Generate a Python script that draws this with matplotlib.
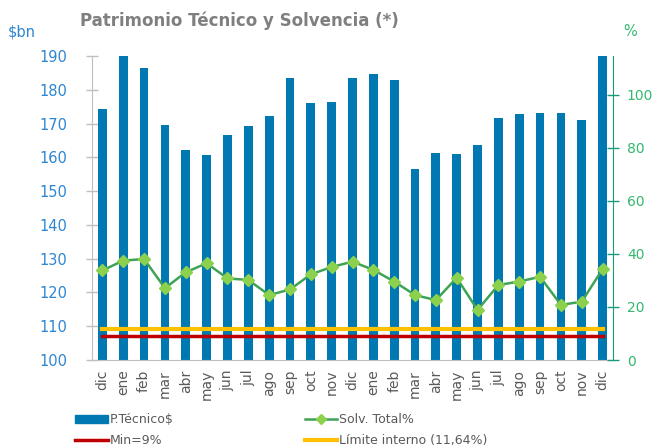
import matplotlib
matplotlib.use("Agg")
import matplotlib.pyplot as plt
import numpy as np
from matplotlib.lines import Line2D
from matplotlib.patches import Patch

months = ["dic", "ene", "feb", "mar", "abr", "may", "jun", "jul", "ago", "sep", "oct", "nov",
          "dic", "ene", "feb", "mar", "abr", "may", "jun", "jul", "ago", "sep", "oct", "nov", "dic"]
patrimonio = [174.3, 191.0, 186.4, 169.6, 162.1, 160.8, 166.7, 169.2, 172.3, 183.5, 176.0, 176.3,
              183.5, 184.6, 183.0, 156.4, 161.3, 160.9, 163.7, 171.7, 172.7, 173.1, 173.1, 171.1, 191.0]
solvencia = [33.8, 37.5, 38.1, 27.1, 33.1, 36.5, 30.8, 30.2, 24.5, 26.6, 32.3, 35.1,
             37.1, 34.0, 29.6, 24.5, 22.6, 31.0, 18.9, 28.3, 29.6, 31.4, 20.8, 22.0, 34.3]
minimo = [9.0] * len(months)
limite = [11.64] * len(months)

bar_color = "#0079B2"
blue_txt = "#2E86D1"
green_txt = "#33B870"
grey_txt = "#595959"

fig = plt.figure(figsize=(6.52, 4.48), dpi=100)
ax = fig.add_axes([92/652, (448-360)/448, (613-92)/652, (360-56)/448])
x = np.arange(len(months))
ax.bar(x, patrimonio, width=0.42, color=bar_color, zorder=2)
ax.set_ylim(100, 190)
ax.set_xlim(-0.5, len(months) - 0.5)
ax.set_yticks(range(100, 191, 10))
ax.set_xticks(x)
ax.set_xticklabels(months, rotation=90, color=grey_txt, fontsize=10)
ax.tick_params(axis="x", length=0, pad=7)
ax.tick_params(axis="y", colors="#BFBFBF", labelcolor=blue_txt, labelsize=10.5,
               direction="inout", length=8, width=1, pad=14)
for s in ["top", "right"]:
    ax.spines[s].set_visible(False)
ax.spines["left"].set_color("#BFBFBF")
ax.spines["bottom"].set_color("#BFBFBF")

ax2 = ax.twinx()
ax2.set_ylim(0, 114.7)
ax2.set_yticks(range(0, 101, 20))
ax2.plot(x, solvencia, color="#3EA355", lw=1.8, marker="D", markersize=6,
         markerfacecolor="#8CD14E", markeredgecolor="#8CD14E", zorder=4)
ax2.plot(x, limite, color="#FFC000", lw=3, zorder=3)
ax2.plot(x, minimo, color="#C00000", lw=2.5, zorder=3)
for s in ["top", "left", "bottom"]:
    ax2.spines[s].set_visible(False)
ax2.spines["right"].set_color("#1A9A7A")
ax2.tick_params(axis="y", colors="#1A9A7A", labelcolor=green_txt, labelsize=10,
                direction="inout", length=8, width=1, pad=6)

fig.text(80/652, 1 - 21/448, "Patrimonio Técnico y Solvencia (*)", fontsize=12,
         fontweight="bold", color="#7F7F7F", ha="left", va="center")
fig.text(8/652, 1 - 32/448, "$bn", color=blue_txt, fontsize=10.5, ha="left", va="center")
fig.text(630/652, 1 - 32/448, "%", color=green_txt, fontsize=10.5, ha="center", va="center")

handles = [
    Patch(color=bar_color, label="P.Técnico$"),
    Line2D([], [], color="#C00000", lw=2.5, label="Min=9%"),
    Line2D([], [], color="#3EA355", lw=1.8, marker="D", markersize=5,
           markerfacecolor="#8CD14E", markeredgecolor="#8CD14E", label="Solv. Total%"),
    Line2D([], [], color="#FFC000", lw=3, label="Límite interno (11,64%)"),
]
leg = fig.legend(handles=handles, ncol=2, loc="upper left",
                 bbox_to_anchor=(75/652, 1 - 413/448), borderpad=0, borderaxespad=0,
                 frameon=False, fontsize=9, handlelength=2.6, handleheight=0.6,
                 columnspacing=10.5, labelspacing=0.65, handletextpad=0.15)
for t in leg.get_texts():
    t.set_color(grey_txt)

fig.savefig("out.png", dpi=100)
